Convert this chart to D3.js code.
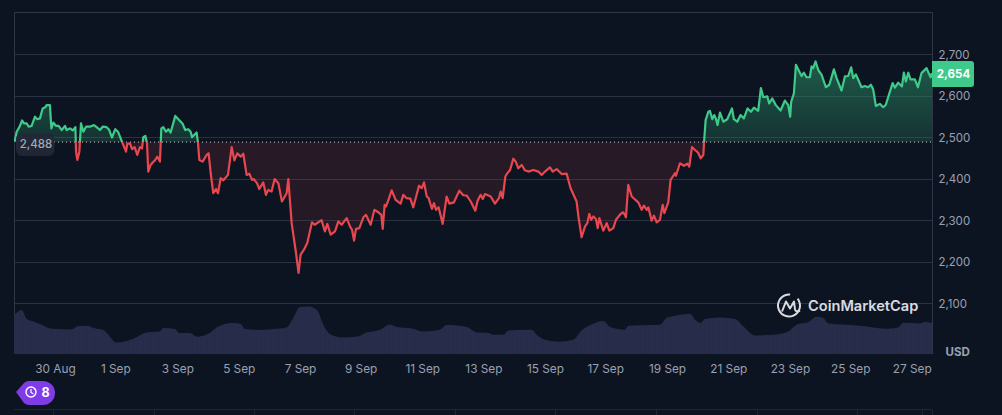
<!DOCTYPE html>
<head>
  <meta charset="utf-8">
  <title>Price chart</title>
  <script src="https://d3js.org/d3.v7.min.js"></script>
  <style>
    body { margin: 0; background: #0d1421; overflow: hidden; }
    svg { display: block; font-family: Inter, "Noto Sans", sans-serif; }
    .grid line { stroke: #2a3140; stroke-width: 1; }
    .frame { stroke: #2f3646; stroke-width: 1; fill: none; }
    .tick-label { fill: #9aa0b1; }
    .y-label { font-size: 11.5px; }
    .x-label { font-size: 11.8px; }
    .axis path, .axis line { display: none; }
  </style>
</head>

<body>
  <script>
    // hours since the start of the chart, and price at that time
    var hours = [0.5,2.1,4.2,6.3,7.8,9.9,11.5,13.8,16.4,18.2,20.3,22.4,24.5,25.5,28.1,29.2,30.8,32.8,34.9,37.3,39.9,41.2,43.8,45.9,48,48.5,49.5,51.1,52.4,54.2,56.3,59.4,62.5,64.6,67.2,69.3,72.4,74.5,76.6,79.2,81.3,84.4,87.6,88.6,90.7,92.3,94.3,96.4,98.5,100.1,101.1,102.7,104,105,106.8,108.4,110.2,112.1,114.1,115.2,116.7,118.8,120.7,122.5,126.1,128.5,131.9,133.9,136.3,138.1,139.2,142.8,143.9,144.9,147.5,150.6,152.2,153.8,155.8,157.9,159.5,161.6,163.7,167.3,170.2,172.3,174.6,177.2,179.3,181.9,184,186.1,187.6,190.2,191.8,194.9,197,198.8,201.4,203.8,206.7,209.5,213.2,214.5,217.1,220.5,222.5,224.1,226.7,229.3,233,235.1,240.5,243.1,245,247.6,251,253.6,256.2,260.1,262.7,264.3,265.9,267.4,270,273.2,275.2,278.9,281.8,284.9,287.2,288.3,289.8,290.9,293,295.3,298.4,302.3,304.4,307,309.9,312.2,316.7,318.8,320.6,322.7,324.2,326.8,328.4,330,332,335.2,338.3,340.4,344,348.2,351.3,354,357.1,360.7,362.5,364.9,366.5,368.3,372.7,376.1,379.2,380.5,382.1,384.2,385.7,387.8,390.4,392.3,394.3,397,399.5,402.2,406.1,410,412.6,415.2,419.1,421.2,424.3,428.2,432.1,435.2,439.9,441.5,443.8,446.5,448.3,449.8,451.4,453,455,456.4,457.7,460.8,463.4,465.5,468.6,470.7,474.3,476.4,478.5,480.3,483,488.1,490.8,492.6,494.7,496,498.6,500.4,502.5,505.1,507.2,508.5,511.6,513.4,516.8,517.6,520.7,523.9,526.5,528,530.1,532.5,534.8,536.9,539,539.5,540.8,542.9,544.2,546,547.5,548.8,550.1,552,554.6,557.7,561.4,562.9,565.5,568.1,570.7,573.6,576.2,578.6,581.9,584,585.9,589,590.5,592.9,595.7,599.4,602.8,605.4,606.9,607.7,609.8,611.4,614,615.8,617.6,619.7,622.3,623.6,624.9,626.8,628.8,631.5,634.8,637.5,641.1,643.2,647.1,649.7,652.3,654.6,656.2,658.3,662.7,665.3,667.9,670,671.8,673.9,677,679.7,681.7,687,688.8,691.4,694.3,695.8,697.4,699.2,701,704.4,706.8,709.6,713.5,716.7,717.8];
    var prices = [2489,2513,2524,2540,2533,2533,2525,2527,2549,2543,2545,2569,2572,2577,2577,2521,2535,2527,2527,2517,2527,2517,2521,2516,2524,2465,2445,2465,2533,2513,2525,2525,2529,2524,2517,2525,2524,2517,2499,2519,2513,2489,2465,2484,2485,2471,2476,2457,2476,2473,2500,2503,2485,2417,2433,2439,2444,2453,2441,2521,2524,2513,2519,2511,2551,2543,2532,2517,2519,2513,2500,2511,2485,2445,2441,2457,2461,2413,2365,2375,2365,2401,2396,2409,2476,2444,2461,2453,2460,2409,2412,2397,2399,2388,2375,2391,2361,2373,2369,2399,2389,2345,2365,2399,2293,2221,2173,2217,2229,2245,2295,2289,2300,2273,2291,2265,2273,2297,2289,2305,2285,2277,2251,2279,2281,2307,2313,2289,2325,2319,2313,2279,2337,2333,2351,2372,2349,2340,2361,2353,2352,2331,2383,2377,2391,2357,2353,2327,2341,2325,2331,2291,2357,2340,2343,2371,2360,2359,2345,2323,2347,2361,2351,2363,2357,2340,2353,2369,2353,2405,2413,2420,2448,2441,2425,2433,2420,2417,2421,2417,2409,2417,2427,2417,2423,2411,2412,2377,2345,2305,2259,2285,2293,2315,2301,2309,2303,2281,2305,2275,2293,2275,2281,2301,2315,2319,2307,2385,2357,2343,2325,2335,2325,2331,2299,2311,2295,2301,2337,2317,2343,2397,2413,2407,2437,2431,2436,2429,2476,2469,2463,2449,2457,2485,2541,2561,2563,2543,2553,2545,2529,2559,2537,2543,2569,2543,2537,2553,2545,2569,2561,2571,2563,2618,2596,2598,2581,2593,2577,2564,2588,2577,2549,2585,2605,2674,2658,2647,2655,2644,2644,2670,2666,2682,2662,2650,2620,2626,2663,2642,2612,2646,2647,2668,2642,2651,2620,2623,2620,2626,2615,2575,2580,2572,2578,2630,2619,2631,2622,2655,2634,2655,2639,2639,2620,2654,2666,2644,2654];

    // volume, relative units
    var volHours = [0,6,9.9,15.1,21.6,29.5,45.1,50.3,58.1,62,69.8,73.8,79.7,93.3,103.7,114.1,116.7,125.8,129.2,137.5,142.8,153.2,158.4,171.4,177.2,180.6,192.3,202.8,213.2,218.4,223.6,230.1,236.6,243.1,247,256.2,269.2,274.5,286.2,294,299.2,310.9,320.1,333.1,338.3,354,361.8,370.9,374.8,382.6,386.5,404.8,408.7,415.2,426.9,437.3,443.8,453,460.8,466,477.7,480.3,501.2,505.1,510.3,518.1,529,532.5,536.9,540.3,552,563.7,570.3,579.4,593.7,605.4,611.9,621.1,627.6,632.8,636.7,651,666.7,682.3,691.4,695.3,708.4,712.3,717.8];
    var volumes = [38.6,44,35,32.6,29.3,25.3,24.6,28,28,26,24,19.3,11.6,15.3,21.6,22.6,26,25,21,21,17.3,21,26.6,31,30,25,24,25,26.6,36,47,47.6,44.3,26,20,16.6,17.6,21,24.3,29.6,27,25.6,22.6,24.3,29,27,21.6,21,19.3,19.3,23.6,24.3,19.3,14.3,12.3,14.3,23.6,30.3,33,27,24.3,28.3,29,29.3,36,38.6,40,34.3,31,35,36.6,35,27.6,18.6,19.3,22.6,29.3,32,37.3,36,30.6,29.3,27.6,25.3,26.6,31.3,30.6,32,31];

    var xTickHours = [32,79.2,127.7,175.7,223.6,271,319.2,367,415.2,462.3,510.6,558.5,606.7,653.9,701.9];
    var xTickLabels = ["30 Aug","1 Sep","3 Sep","5 Sep","7 Sep","9 Sep","11 Sep","13 Sep","15 Sep","17 Sep","19 Sep","21 Sep","23 Sep","25 Sep","27 Sep"];
    var yTicks = [2100,2200,2300,2400,2500,2600,2700];
    var baseline = 2488;
    var lastPrice = 2654;
    var tableTicks = [53,154,254,354,455,555,656,757,857,922];

    var width = 1002, height = 415;
    var left = 14, right = 932, top_ = 12.5, volBottom = 354;

    var svg = d3.select("body").append("svg")
      .attr("width", width)
      .attr("height", height);

    var x = d3.scaleLinear().domain([0, 717.8]).range([left, right]);
    var y = d3.scaleLinear().domain([2100, 2700]).range([303.3, 54]);
    var v = d3.scaleLinear().domain([0, 40]).range([volBottom, volBottom - 40]);
    var baseY = y(baseline);

    var series = hours.map((h, i) => ({h: h, p: prices[i]}));
    var volSeries = volHours.map((h, i) => ({h: h, v: volumes[i]}));

    var defs = svg.append("defs");

    var green = defs.append("linearGradient").attr("id", "greenFill")
      .attr("gradientUnits", "userSpaceOnUse")
      .attr("x1", 0).attr("x2", 0).attr("y1", y(2682)).attr("y2", baseY);
    green.append("stop").attr("offset", "0%").attr("stop-color", "#2f9c6e").attr("stop-opacity", 0.52);
    green.append("stop").attr("offset", "100%").attr("stop-color", "#2f9c6e").attr("stop-opacity", 0.22);

    var red = defs.append("linearGradient").attr("id", "redFill")
      .attr("gradientUnits", "userSpaceOnUse")
      .attr("x1", 0).attr("x2", 0).attr("y1", baseY).attr("y2", y(2173));
    red.append("stop").attr("offset", "0%").attr("stop-color", "#d8404a").attr("stop-opacity", 0.13);
    red.append("stop").attr("offset", "55%").attr("stop-color", "#d8404a").attr("stop-opacity", 0.12);
    red.append("stop").attr("offset", "100%").attr("stop-color", "#d8404a").attr("stop-opacity", 0.01);

    defs.append("clipPath").attr("id", "above").append("rect")
      .attr("x", left).attr("y", 0).attr("width", right - left).attr("height", baseY);
    defs.append("clipPath").attr("id", "below").append("rect")
      .attr("x", left).attr("y", baseY).attr("width", right - left).attr("height", height - baseY);

    var stripes = defs.append("pattern").attr("id", "volStripes")
      .attr("patternUnits", "userSpaceOnUse").attr("width", 2.56).attr("height", 10);
    stripes.append("rect").attr("width", 2.56).attr("height", 10).attr("fill", "#282d4c");
    stripes.append("rect").attr("width", 0.6).attr("height", 10).attr("fill", "#232845");

    // grid
    svg.append("g").attr("class", "grid")
      .selectAll("line")
      .data(yTicks)
      .enter().append("line")
        .attr("x1", left).attr("x2", right)
        .attr("y1", d => Math.round(y(d)) + 0.5)
        .attr("y2", d => Math.round(y(d)) + 0.5);

    svg.append("path").attr("class", "frame")
      .attr("d", "M" + (left + 0.5) + "," + volBottom + "V" + top_ + "H" + (right + 0.5) + "V" + volBottom);

    // volume
    svg.append("path")
      .datum(volSeries)
      .attr("fill", "url(#volStripes)")
      .attr("d", d3.area().x(d => x(d.h)).y0(volBottom).y1(d => v(d.v)).curve(d3.curveMonotoneX));

    // area and line, split at the baseline
    var area = d3.area().x(d => x(d.h)).y0(baseY).y1(d => y(d.p));
    var line = d3.line().x(d => x(d.h)).y(d => y(d.p));

    svg.append("path").datum(series).attr("clip-path", "url(#above)").attr("fill", "url(#greenFill)").attr("d", area);
    svg.append("path").datum(series).attr("clip-path", "url(#below)").attr("fill", "url(#redFill)").attr("d", area);

    svg.append("line")
      .attr("x1", 54).attr("x2", right)
      .attr("y1", baseY).attr("y2", baseY)
      .attr("stroke", "#c9ccd4")
      .attr("stroke-width", 1)
      .attr("stroke-dasharray", "1,3");

    svg.append("path").datum(series).attr("clip-path", "url(#above)")
      .attr("fill", "none").attr("stroke", "#3fc98a").attr("stroke-width", 2.2).attr("stroke-linejoin", "round").attr("d", line);
    svg.append("path").datum(series).attr("clip-path", "url(#below)")
      .attr("fill", "none").attr("stroke", "#e8474f").attr("stroke-width", 2.2).attr("stroke-linejoin", "round").attr("d", line);

    // axes
    var yAxis = d3.axisRight(y)
      .tickValues(yTicks)
      .tickSize(0)
      .tickPadding(0)
      .tickFormat(d3.format(","));
    var yG = svg.append("g").attr("class", "axis")
      .attr("transform", "translate(938.5,0.5)")
      .call(yAxis);
    yG.select(".domain").remove();
    yG.selectAll("text").attr("class", "tick-label y-label");
    yG.attr("font-size", null).attr("font-family", null);

    var xAxis = d3.axisBottom(x)
      .tickValues(xTickHours)
      .tickSize(0)
      .tickPadding(0)
      .tickFormat((d, i) => xTickLabels[i]);
    var xG = svg.append("g").attr("class", "axis")
      .attr("transform", "translate(0,365)")
      .call(xAxis);
    xG.select(".domain").remove();
    xG.selectAll("text").attr("class", "tick-label x-label");
    xG.attr("font-size", null).attr("font-family", null);

    svg.append("text")
      .attr("x", 945.5).attr("y", 355.5)
      .attr("fill", "#9aa0b1")
      .attr("font-size", 11.5)
      .attr("font-weight", 700)
      .text("USD");

    // start price label
    svg.append("rect")
      .attr("x", 16).attr("y", 133).attr("width", 38.5).attr("height", 23).attr("rx", 6)
      .attr("fill", "#222836").attr("fill-opacity", 0.9);
    svg.append("text")
      .attr("x", 36).attr("y", 148)
      .attr("text-anchor", "middle")
      .attr("fill", "#a3a8b8")
      .attr("font-size", 11.5)
      .attr("font-weight", 500)
      .text(d3.format(",")(baseline));

    // last price badge
    svg.append("path")
      .attr("d", "M932,61H971a3,3 0 0 1 3,3V84a3,3 0 0 1 -3,3H932Z")
      .attr("fill", "#3fc98a");
    svg.append("text")
      .attr("x", 953.5).attr("y", 78)
      .attr("text-anchor", "middle")
      .attr("fill", "#fff")
      .attr("font-size", 11.5)
      .attr("font-weight", 700)
      .text(d3.format(",")(lastPrice));

    // watermark
    var logo = svg.append("g").attr("transform", "translate(789,305.5)");
    logo.append("path")
      .attr("d", d3.arc()({innerRadius: 10, outerRadius: 12, startAngle: 0.9, endAngle: 2 * Math.PI + 0.1 }))
      .attr("fill", "#d9dbe1");
    logo.append("path")
      .attr("d", "M-7,6 L-3,-4 L1,3 L5,-4 L6,4 Q7,7 11,5")
      .attr("fill", "none")
      .attr("stroke", "#d9dbe1")
      .attr("stroke-width", 2)
      .attr("stroke-linejoin", "round");
    svg.append("text")
      .attr("x", 808).attr("y", 311)
      .attr("fill", "#d9dbe1")
      .attr("font-size", 14.6)
      .attr("font-weight", 600)
      .text("CoinMarketCap");

    // history badge
    var badge = svg.append("g");
    badge.append("path")
      .attr("d", "M16,392 L24,383 Q26,381 29,381 H43 A12,12 0 0 1 43,405 H29 Q26,405 24,403 Z")
      .attr("fill", "#7f3be8");
    badge.append("circle")
      .attr("cx", 31).attr("cy", 392).attr("r", 5)
      .attr("fill", "none").attr("stroke", "#fff").attr("stroke-width", 1.4);
    badge.append("path")
      .attr("d", "M31,389 V392.5 L33.5,394")
      .attr("fill", "none").attr("stroke", "#fff").attr("stroke-width", 1.2);
    badge.append("text")
      .attr("x", 41.5).attr("y", 397)
      .attr("fill", "#fff")
      .attr("font-size", 12.5)
      .attr("font-weight", 700)
      .text("8");

    // edge of the table below the chart
    svg.append("line")
      .attr("x1", 14).attr("x2", right)
      .attr("y1", 409.5).attr("y2", 409.5)
      .attr("stroke", "#1e2533");
    svg.append("g").selectAll("line")
      .data(tableTicks.concat([right]))
      .enter().append("line")
        .attr("x1", d => d + 0.5).attr("x2", d => d + 0.5)
        .attr("y1", 409.5).attr("y2", 415)
        .attr("stroke", "#1e2533");
  </script>
</body>
